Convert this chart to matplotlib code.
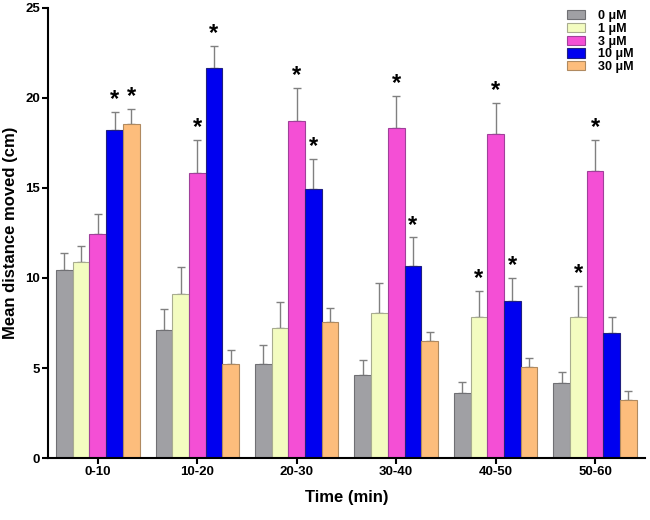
import numpy as np
import matplotlib.pyplot as plt

plt.rcParams['font.family'] = ['Liberation Sans', 'DejaVu Sans']

groups = ['0-10', '10-20', '20-30', '30-40', '40-50', '50-60']
doses = ['0 \u03bcM', '1 \u03bcM', '3 \u03bcM', '10 \u03bcM', '30 \u03bcM']

means = {
    '0': [10.45, 7.1, 5.2, 4.6, 3.6, 4.15],
    '1': [10.9, 9.1, 7.25, 8.05, 7.85, 7.85],
    '3': [12.45, 15.85, 18.7, 18.3, 18.0, 15.95],
    '10': [18.2, 21.65, 14.95, 10.65, 8.75, 6.95],
    '30': [18.55, 5.2, 7.55, 6.5, 5.05, 3.25],
}
err_top = {
    '0': [11.4, 8.3, 6.3, 5.45, 4.2, 4.8],
    '1': [11.8, 10.6, 8.65, 9.7, 9.3, 9.55],
    '3': [13.55, 17.65, 20.55, 20.1, 19.7, 17.65],
    '10': [19.2, 22.9, 16.6, 12.25, 10.0, 7.85],
    '30': [19.4, 6.0, 8.35, 7.0, 5.55, 3.7],
}
# significance stars (1 = star)
stars = {
    '0': [0, 0, 0, 0, 0, 0],
    '1': [0, 0, 0, 0, 1, 1],
    '3': [0, 1, 1, 1, 1, 1],
    '10': [1, 1, 1, 1, 1, 0],
    '30': [1, 0, 0, 0, 0, 0],
}

colors = ['#a0a0a4', '#f3fcc0', '#f44fd5', '#0000f0', '#fdbd7c']
edges = ['#707074', '#a8ac90', '#a0409a', '#202080', '#b08a60']

fig = plt.figure(figsize=(6.5, 5.2), dpi=100)
ax = fig.add_axes([0.074, 0.119, 0.918, 0.866])

x = np.arange(len(groups))
w = 0.168
for i, key in enumerate(means):
    pos = x + (i - 2) * w
    m = np.array(means[key])
    e = np.array(err_top[key]) - m
    ax.bar(pos, m, w, color=colors[i], edgecolor=edges[i], linewidth=0.8,
           label=doses[i], zorder=2)
    ax.errorbar(pos, m, yerr=[np.zeros_like(e), e], fmt='none',
                ecolor='#808080', elinewidth=1, capsize=3, capthick=1, zorder=1)
    for j, s in enumerate(stars[key]):
        if s:
            ax.text(pos[j], err_top[key][j] + 0.05, '*', ha='center', va='bottom',
                    fontsize=17, fontweight='bold')

ax.set_xlim(-0.5, 5.5)
ax.set_ylim(0, 25)
ax.set_yticks([0, 5, 10, 15, 20, 25])
ax.set_xticks(x)
ax.set_xticklabels(groups)
for lab in ax.get_xticklabels() + ax.get_yticklabels():
    lab.set_fontweight('bold')
    lab.set_fontsize(9.5)
ax.spines['top'].set_visible(False)
ax.spines['right'].set_visible(False)
ax.spines['left'].set_linewidth(1.5)
ax.spines['bottom'].set_linewidth(1.5)
ax.tick_params(width=1.5, length=4, pad=2)
ax.set_xlabel('Time (min)', fontsize=12, fontweight='bold', labelpad=8)
ax.set_ylabel('Mean distance moved (cm)', fontsize=12, fontweight='bold')
ax.yaxis.set_label_coords(-0.05, 0.5)

leg = ax.legend(loc='upper right', bbox_to_anchor=(1.0, 1.02), frameon=False,
                prop={'weight': 'bold', 'size': 9}, handlelength=1.5,
                handleheight=0.75, labelspacing=0.06, handletextpad=1.0)

fig.savefig('out.png', dpi=100)
